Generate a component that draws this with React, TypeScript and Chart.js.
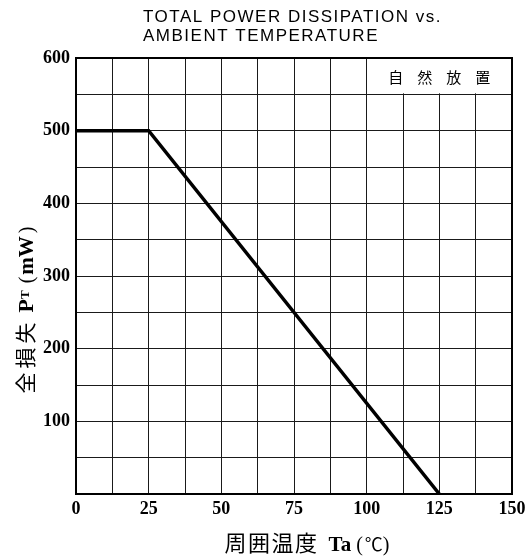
import { useEffect, useRef } from 'react';
import { Chart, registerables } from 'chart.js';

Chart.register(...registerables);

// ---- data ----
const temperatureC = [0, 25, 125];
const powerMW = [500, 500, 0];
const xTickLabels = [0, 25, 50, 75, 100, 125, 150];
const yTickLabels = [100, 200, 300, 400, 500, 600];
const titleLines = ['TOTAL POWER DISSIPATION vs.', 'AMBIENT TEMPERATURE'];
const conditionLabel = '自然放置';

type Seg = { t?: string; font?: string; ls?: number; dy?: number; gap?: number };

const CJK = '"Noto Sans CJK JP"';
const SERIF = '"Liberation Serif", "DejaVu Serif", serif';

const xTitleSegs: Seg[] = [
  { t: '周囲温度', font: `22px ${CJK}`, ls: 1.5 },
  { gap: 10 },
  { t: 'Ta', font: `bold 21px ${SERIF}` },
  { gap: 5 },
  { t: '(', font: `20px ${SERIF}` },
  { gap: 2 },
  { t: '℃', font: `18px ${CJK}` },
  { t: ')', font: `20px ${SERIF}` },
];

const yTitleSegs: Seg[] = [
  { t: '全損失', font: `21px ${CJK}`, ls: 4 },
  { gap: 6 },
  { t: 'P', font: `bold 22px ${SERIF}` },
  { t: 'T', font: `bold 13px ${SERIF}`, dy: -4 },
  { gap: 7 },
  { t: '(', font: `20px ${SERIF}` },
  { gap: 2 },
  { t: 'mW', font: `bold 21px ${SERIF}` },
  { gap: 3 },
  { t: ')', font: `20px ${SERIF}` },
];

function measureSeg(ctx: CanvasRenderingContext2D, s: Seg): number {
  if (s.gap) return s.gap;
  ctx.font = s.font!;
  (ctx as any).letterSpacing = `${s.ls || 0}px`;
  return ctx.measureText(s.t!).width;
}

function drawRun(ctx: CanvasRenderingContext2D, segs: Seg[], centerAlong: number) {
  const widths = segs.map((s) => measureSeg(ctx, s));
  const total = widths.reduce((a, b) => a + b, 0);
  let pos = centerAlong - total / 2;
  ctx.textAlign = 'left';
  ctx.textBaseline = 'alphabetic';
  segs.forEach((s, i) => {
    if (!s.gap) {
      ctx.font = s.font!;
      (ctx as any).letterSpacing = `${s.ls || 0}px`;
      ctx.fillText(s.t!, pos, s.dy || 0);
    }
    pos += widths[i];
  });
  (ctx as any).letterSpacing = '0px';
}

export default function App() {
  const ref = useRef<HTMLCanvasElement>(null);

  useEffect(() => {
    document.body.style.margin = '0';
    const canvas = ref.current!;

    const decor = {
      id: 'decor',
      beforeDatasetsDraw(chart: any) {
        const { ctx, chartArea: a, scales } = chart;
        const x = scales.x;
        const y = scales.y;
        const x0 = x.getPixelForValue(100);
        const x1 = x.getPixelForValue(150);
        const y0 = y.getPixelForValue(600);
        const y1 = y.getPixelForValue(550);
        ctx.save();
        // condition box
        ctx.fillStyle = '#fff';
        ctx.fillRect(x0 + 1, y0, x1 - x0 - 1, y1 - y0 - 1);
        ctx.fillStyle = '#000';
        ctx.font = `15px ${CJK}`;
        (ctx as any).letterSpacing = '14px';
        ctx.textAlign = 'left';
        ctx.textBaseline = 'middle';
        const n = conditionLabel.length;
        const w = n * 15 + (n - 1) * 14;
        ctx.fillText(conditionLabel, (x0 + x1) / 2 - w / 2, (y0 + y1) / 2 + 1);
        (ctx as any).letterSpacing = '0px';
        // frame
        ctx.strokeStyle = '#000';
        ctx.lineWidth = 2;
        ctx.strokeRect(a.left, a.top, a.right - a.left, a.bottom - a.top);
        ctx.restore();
      },
      afterDraw(chart: any) {
        const { ctx, chartArea: a } = chart;
        ctx.save();
        ctx.fillStyle = '#000';
        // chart title
        ctx.font = '17px "Liberation Sans", Arial, sans-serif';
        (ctx as any).letterSpacing = '1.5px';
        ctx.textAlign = 'left';
        ctx.textBaseline = 'alphabetic';
        ctx.fillText(titleLines[0], 143, 22);
        ctx.fillText(titleLines[1], 143, 41);
        (ctx as any).letterSpacing = '0px';
        // x axis title
        ctx.save();
        ctx.translate(0, 551);
        drawRun(ctx, xTitleSegs, (a.left + a.right) / 2 + 13);
        ctx.restore();
        // y axis title
        ctx.save();
        ctx.translate(33, 0);
        ctx.rotate(-Math.PI / 2);
        drawRun(ctx, yTitleSegs, -((a.top + a.bottom) / 2 + 34));
        ctx.restore();
        ctx.restore();
      },
    };

    const tickFont = { family: 'Liberation Serif', weight: 'bold' as const, size: 18 };

    const chart = new Chart(canvas, {
      type: 'line',
      data: {
        datasets: [
          {
            data: temperatureC.map((t, i) => ({ x: t, y: powerMW[i] })),
            borderColor: '#000',
            borderWidth: 3.5,
            pointRadius: 0,
            tension: 0,
            fill: false,
            borderJoinStyle: 'miter',
          },
        ],
      },
      options: {
        animation: false,
        responsive: true,
        maintainAspectRatio: false,
        layout: { padding: { top: 58, right: 19, left: 0, bottom: 0 } },
        plugins: {
          legend: { display: false },
          tooltip: { enabled: false },
          title: { display: false },
        },
        scales: {
          x: {
            type: 'linear',
            min: 0,
            max: 150,
            ticks: {
              stepSize: 12.5,
              autoSkip: false,
              maxRotation: 0,
              padding: 5,
              color: '#000',
              font: tickFont,
              callback: (v: any) => (xTickLabels.includes(Number(v)) ? String(v) : ''),
            },
            grid: { color: '#1a1a1a', lineWidth: 1, drawTicks: false },
            border: { display: false },
            afterFit: (s: any) => {
              s.height = 64;
            },
          },
          y: {
            type: 'linear',
            min: 0,
            max: 600,
            ticks: {
              stepSize: 50,
              autoSkip: false,
              padding: 6,
              color: '#000',
              font: tickFont,
              callback: (v: any) => (yTickLabels.includes(Number(v)) ? String(v) : ''),
            },
            grid: { color: '#1a1a1a', lineWidth: 1, drawTicks: false },
            border: { display: false },
            afterFit: (s: any) => {
              s.width = 76;
            },
          },
        },
      },
      plugins: [decor],
    });

    return () => chart.destroy();
  }, []);

  return (
    <div style={{ position: 'absolute', left: 0, top: 0, width: 531, height: 558 }}>
      <canvas ref={ref} />
    </div>
  );
}
